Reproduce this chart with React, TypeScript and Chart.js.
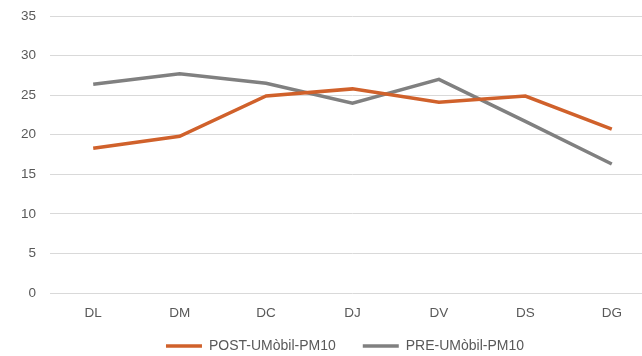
import { useEffect, useRef } from "react";
import { Chart, registerables } from "chart.js";

Chart.register(...registerables);

const categories = ["DL", "DM", "DC", "DJ", "DV", "DS", "DG"];
const postValues = [18.3, 19.8, 24.9, 25.8, 24.1, 24.9, 20.7];
const preValues = [26.4, 27.7, 26.5, 24.0, 27.0, 21.7, 16.3];
const yTickValues = [0, 5, 10, 15, 20, 25, 30, 35];
const seriesNames = ["POST-UMòbil-PM10", "PRE-UMòbil-PM10"];

const ORANGE = "#D0612B";
const GRAY = "#808080";
const TEXT = "#595959";
const FONT = { family: "'Liberation Sans', Arial, sans-serif", size: 13.5 };
const LEGEND_FONT = { family: "'Liberation Sans', Arial, sans-serif", size: 14 };

export default function App() {
  const ref = useRef<HTMLCanvasElement>(null);
  useEffect(() => {
    if (!ref.current) return;
    const chart = new Chart(ref.current, {
      type: "line",
      data: {
        labels: categories,
        datasets: [
          {
            label: seriesNames[0],
            data: postValues,
            borderColor: ORANGE,
            backgroundColor: ORANGE,
            borderWidth: 3.5,
            pointRadius: 0,
            tension: 0,
          },
          {
            label: seriesNames[1],
            data: preValues,
            borderColor: GRAY,
            backgroundColor: GRAY,
            borderWidth: 3.5,
            pointRadius: 0,
            tension: 0,
          },
        ],
      },
      options: {
        responsive: false,
        animation: false,
        events: [],
        layout: { padding: { left: 20, right: 0, top: 0, bottom: 0 } },
        scales: {
          x: {
            offset: true,
            grid: { display: false },
            border: { display: false },
            ticks: { mirror: true, padding: -28, color: TEXT, font: FONT, maxRotation: 0 },
            afterFit: (s: any) => {
              s.height = 19;
            },
          },
          y: {
            min: 0,
            max: 35,
            afterBuildTicks: (s: any) => {
              s.ticks = yTickValues.map((v) => ({ value: v }));
            },
            ticks: { padding: 14, color: TEXT, font: FONT },
            grid: { color: "#D9D9D9", lineWidth: 1, drawTicks: false },
            border: { display: false },
            afterFit: (s: any) => {
              s.width = 30;
            },
          },
          yRight: {
            position: "right",
            display: true,
            min: 0,
            max: 35,
            grid: { display: false, drawTicks: false },
            border: { display: false },
            ticks: { display: false },
            afterFit: (s: any) => {
              s.width = 15;
            },
          },
        },
        plugins: {
          legend: {
            position: "bottom",
            labels: {
              usePointStyle: true,
              pointStyle: "line",
              pointStyleWidth: 36,
              padding: 27,
              color: TEXT,
              font: LEGEND_FONT,
            },
          },
          tooltip: { enabled: false },
        },
      },
    });
    return () => chart.destroy();
  }, []);
  return (
    <div
      style={{
        position: "absolute",
        left: 0,
        top: 0,
        width: 642,
        height: 356,
        overflow: "hidden",
        background: "#fff",
      }}
    >
      <canvas
        ref={ref}
        width={670}
        height={369}
        style={{ display: "block", marginTop: -6 }}
      />
    </div>
  );
}
